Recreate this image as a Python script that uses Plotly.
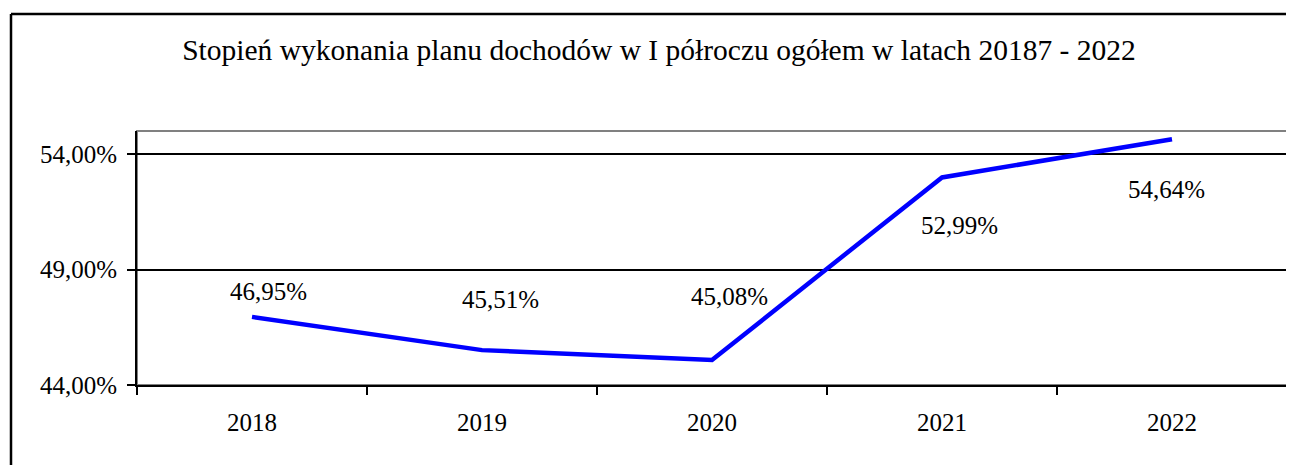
import plotly.graph_objects as go

years = ["2018", "2019", "2020", "2021", "2022"]
values = [46.95, 45.51, 45.08, 52.99, 54.64]
y_ticks = [44, 49, 54]

title = "Stopień wykonania planu dochodów w I półroczu ogółem w latach 20187 - 2022"

# label placement offsets (pixels) - styling only
label_dx = [16, 18, 17, 17, -6]
label_dy = [25, 51, 64, -48, -50]

FONT = "Liberation Serif"
PCT = "&#37;"

# page has an 8px body margin; size figure so it fits the 1294x465 window
OFF = 8
W, H = 1294 - OFF, 465 - OFF
ML, MR, MT, MB = 137 - OFF, 7, 131 - OFF, 80
PW, PH = W - ML - MR, H - MT - MB


def pl(v):
    return f"{v:.2f}".replace(".", ",") + PCT


fig = go.Figure()
fig.add_trace(go.Scatter(
    x=years, y=values, mode="lines",
    line=dict(color="#0000ff", width=4.5),
    hoverinfo="skip", showlegend=False,
))

for i, (v, dx, dy) in enumerate(zip(values, label_dx, label_dy)):
    fig.add_annotation(
        x=i, y=v, xref="x", yref="y", text=pl(v),
        showarrow=False, xshift=dx, yshift=dy,
        font=dict(family=FONT, size=25, color="#000000"),
    )

# outer chart frame: left and top edges (others lie outside the picture)
fx0 = (11 - 137) / PW
fy1 = (385 - 14) / PH
fig.add_shape(type="line", xref="paper", yref="paper",
              x0=fx0, x1=fx0, y0=-0.5, y1=fy1,
              line=dict(color="#000000", width=2.5), layer="below")
fig.add_shape(type="line", xref="paper", yref="paper",
              x0=fx0, x1=1.2, y0=fy1, y1=fy1,
              line=dict(color="#000000", width=2.5), layer="below")
# plot area gray frame (top/right)
fig.add_shape(type="rect", xref="paper", yref="paper",
              x0=0, x1=1, y0=0, y1=1,
              line=dict(color="#808080", width=2), fillcolor="rgba(0,0,0,0)",
              layer="below")

fig.update_layout(
    width=W, height=H,
    margin=dict(l=ML, r=MR, t=MT, b=MB),
    paper_bgcolor="#ffffff", plot_bgcolor="#ffffff",
    font=dict(family=FONT, size=25, color="#000000"),
    title=dict(text=title, x=(659 - OFF) / W, xanchor="center", xref="container",
               y=1 - (50 - OFF) / H, yanchor="middle", yref="container",
               font=dict(family=FONT, size=29.5, color="#000000")),
    xaxis=dict(
        type="category", tickson="boundaries", ticks="outside", ticklen=8,
        tickwidth=2, tickcolor="#000000", showline=True, linecolor="#000000",
        linewidth=2, showgrid=False, zeroline=False, range=[-0.5, 4.5],
        tickfont=dict(family=FONT, size=25), ticklabelstandoff=14,
    ),
    yaxis=dict(
        range=[44, 55], tickvals=y_ticks, ticktext=[pl(t) for t in y_ticks],
        ticks="outside", ticklen=8, tickwidth=2, tickcolor="#000000",
        showline=True, linecolor="#000000", linewidth=2,
        showgrid=True, gridcolor="#000000", gridwidth=2, zeroline=False,
        tickfont=dict(family=FONT, size=25), ticklabelstandoff=5,
    ),
)

fig.write_html("out.html")
